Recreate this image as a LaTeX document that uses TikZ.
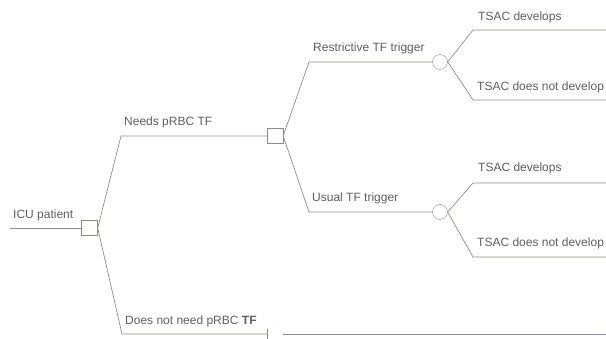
\documentclass[tikz,border=0pt]{standalone}
\usepackage{fontspec}
\setmainfont{Liberation Sans}
\usetikzlibrary{positioning}

\definecolor{branchgray}{HTML}{8E8E80}
\definecolor{labelgray}{HTML}{5E5E5E}
\definecolor{payoffblue}{HTML}{8484AC}

\tikzset{
	decision/.style={draw=branchgray, rectangle, minimum width=16pt, minimum height=15pt, inner sep=0pt, fill=white},
	chance/.style={draw=branchgray, circle, minimum size=15pt, inner sep=0pt, fill=white},
	branch/.style={draw=branchgray, line width=0.7pt},
	lbl/.style={anchor=base west, text=labelgray, inner sep=0pt, font=\fontsize{12}{14}\selectfont},
}

\begin{document}
\begin{tikzpicture}[x=1pt,y=-1pt]
	\useasboundingbox (0,0) rectangle (606,339);
	\clip (0,0) rectangle (606,339);

	% nodes of the tree
	\node[decision] (icu) at (89.5,228) {};
	\node[decision] (need) at (275,136) {};
	\node[chance] (restr) at (440,62) {};
	\node[chance] (usual) at (440,212) {};

	\coordinate (in) at (10,228);
	\coordinate (r1) at (473,30);
	\coordinate (r2) at (473,100);
	\coordinate (u1) at (473,183);
	\coordinate (u2) at (473,257);
	\coordinate (nope) at (267,334);
	\coordinate (payoff) at (283,334);

	% branches
	\draw[branch] (in) -- (icu.west);
	\draw[branch] (icu.east) -- (121,136) -- (need.west);
	\draw[branch] (icu.east) -- (122,334) -- (nope);
	\draw[branch] (need.east) -- (309,62) -- (restr.west);
	\draw[branch] (need.east) -- (309,212) -- (usual.west);
	\draw[branch] (restr.east) -- (r1) -- (606,30);
	\draw[branch] (restr.east) -- (r2) -- (606,100);
	\draw[branch] (usual.east) -- (u1) -- (606,183);
	\draw[branch] (usual.east) -- (u2) -- (606,257);
	\draw[branch] ([yshift=-5pt]nope) -- ([yshift=5pt]nope);
	\draw[draw=payoffblue, line width=0.7pt] (payoff) -- (606,334);

	% labels
	\node[lbl] at (13,219) {ICU patient};
	\node[lbl] at (124,126) {Needs pRBC TF};
	\node[lbl] at (125,325) {Does not need pRBC \textbf{TF}};
	\node[lbl] at (313,52) {Restrictive TF trigger};
	\node[lbl] at (312,202) {Usual TF trigger};
	\node[lbl] at (478,21) {TSAC develops};
	\node[lbl] at (477,91) {TSAC does not develop};
	\node[lbl] at (478,172) {TSAC develops};
	\node[lbl] at (477,247) {TSAC does not develop};
\end{tikzpicture}
\end{document}
